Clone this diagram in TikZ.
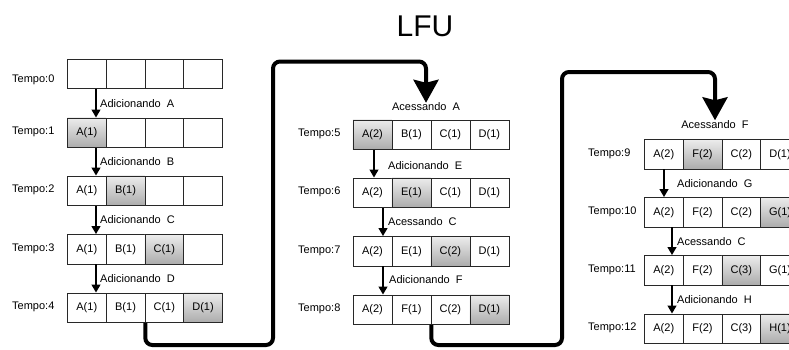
\documentclass[tikz,border=0pt]{standalone}
\usepackage{fontspec}
\setmainfont{Liberation Sans}
\usetikzlibrary{arrows.meta}
\definecolor{edgegray}{RGB}{40,40,40}
\definecolor{hottop}{RGB}{236,236,236}
\definecolor{hotbottom}{RGB}{172,172,172}
\tikzset{
  cell/.style={draw=edgegray, line width=0.8pt, fill=white, minimum height=29.5pt,
    inner sep=0pt, anchor=north west, font=\fontsize{11}{13}\selectfont},
  hotcell/.style={cell, top color=hottop, bottom color=hotbottom},
  tlabel/.style={anchor=west, inner sep=0pt, font=\fontsize{11}{13}\selectfont},
  elabel/.style={anchor=west, inner sep=0pt, font=\fontsize{11}{13}\selectfont},
  alabel/.style={inner sep=0pt, font=\fontsize{11}{13}\selectfont},
  smallarrow/.style={line width=1.3pt, -{Triangle[width=9pt,length=8pt]}},
  bigarrow/.style={line width=4pt, rounded corners=7pt,
    -{Stealth[width=25pt,length=23pt,inset=3pt]}},
}
% one row of four cache slots: name, left x, top y, slot width, slots
\newcommand\slotrow[5]{%
  \foreach \t/\s [count=\i] in {#5}{%
    \node[\s, minimum width=#4] (#1c\i) at ({#2+(\i-1)*#4},#3) {\t};
  }%
}
\begin{document}
\begin{tikzpicture}[x=1pt,y=-1pt]
\useasboundingbox (0,0) rectangle (789,349);

\node[font=\fontsize{30}{34}\selectfont, inner sep=0pt] (title) at (425,26) {LFU};

% ---------- first column ----------
\slotrow{r0}{67}{58.5}{38.75pt}{/cell,/cell,/cell,/cell}
\slotrow{r1}{67}{117.5}{38.75pt}{A(1)/hotcell,/cell,/cell,/cell}
\slotrow{r2}{67}{175.5}{38.75pt}{A(1)/cell,B(1)/hotcell,/cell,/cell}
\slotrow{r3}{67}{234}{38.75pt}{A(1)/cell,B(1)/cell,C(1)/hotcell,/cell}
\slotrow{r4}{67}{292.5}{38.75pt}{A(1)/cell,B(1)/cell,C(1)/cell,D(1)/hotcell}

\node[tlabel] (t0) at (12,80) {Tempo:0};
\node[tlabel] (t1) at (12,132) {Tempo:1};
\node[tlabel] (t2) at (12,190) {Tempo:2};
\node[tlabel] (t3) at (12,248.5) {Tempo:3};
\node[tlabel] (t4) at (12,307) {Tempo:4};

\coordinate (ax1) at (96,0);
\draw[smallarrow] (r0c1.south -| ax1) -- (r1c1.north -| ax1);
\draw[smallarrow] (r1c1.south -| ax1) -- (r2c1.north -| ax1);
\draw[smallarrow] (r2c1.south -| ax1) -- (r3c1.north -| ax1);
\draw[smallarrow] (r3c1.south -| ax1) -- (r4c1.north -| ax1);
\node[elabel] (e1) at (100,103.5) {Adicionando\ \ A};
\node[elabel] (e2) at (100,161.5) {Adicionando\ \ B};
\node[elabel] (e3) at (100,220) {Adicionando\ \ C};
\node[elabel] (e4) at (100,278.5) {Adicionando\ \ D};

% ---------- second column ----------
\slotrow{r5}{352.5}{119.5}{39pt}{A(2)/hotcell,B(1)/cell,C(1)/cell,D(1)/cell}
\slotrow{r6}{352.5}{177.5}{39pt}{A(2)/cell,E(1)/hotcell,C(1)/cell,D(1)/cell}
\slotrow{r7}{352.5}{236}{39pt}{A(2)/cell,E(1)/cell,C(2)/hotcell,D(1)/cell}
\slotrow{r8}{352.5}{294.5}{39pt}{A(2)/cell,F(1)/cell,C(2)/cell,D(1)/hotcell}

\node[tlabel] (t5) at (298,134) {Tempo:5};
\node[tlabel] (t6) at (298,192) {Tempo:6};
\node[tlabel] (t7) at (298,250.5) {Tempo:7};
\node[tlabel] (t8) at (298,309) {Tempo:8};

\node[alabel] (accA) at (426,107) {Acessando\ \ A};
\coordinate (ax2a) at (374,0);
\coordinate (ax2b) at (383,0);
\draw[smallarrow] (r5c1.south -| ax2a) -- (r6c1.north -| ax2a);
\draw[smallarrow] (r6c1.south -| ax2b) -- (r7c1.north -| ax2b);
\draw[smallarrow] (r7c1.south -| ax2b) -- (r8c1.north -| ax2b);
\node[elabel] (e6) at (388,166) {Adicionando\ \ E};
\node[elabel] (e7) at (388,221.5) {Acessando\ \ C};
\node[elabel] (e8) at (389,280) {Adicionando\ \ F};

% ---------- third column ----------
\slotrow{r9}{644}{139}{38.75pt}{A(2)/cell,F(2)/hotcell,C(2)/cell,D(1)/cell}
\slotrow{r10}{644}{197}{38.75pt}{A(2)/cell,F(2)/cell,C(2)/cell,G(1)/hotcell}
\slotrow{r11}{644}{255}{38.75pt}{A(2)/cell,F(2)/cell,C(3)/hotcell,G(1)/cell}
\slotrow{r12}{644}{313.5}{38.75pt}{A(2)/cell,F(2)/cell,C(3)/cell,H(1)/hotcell}

\node[tlabel] (t9) at (588,153.5) {Tempo:9};
\node[tlabel] (t10) at (588,211.5) {Tempo:10};
\node[tlabel] (t11) at (588,270) {Tempo:11};
\node[tlabel] (t12) at (588,328) {Tempo:12};

\node[alabel] (accF) at (715,124.5) {Acessando\ \ F};
\coordinate (ax3a) at (664,0);
\coordinate (ax3b) at (672,0);
\draw[smallarrow] (r9c1.south -| ax3a) -- (r10c1.north -| ax3a);
\draw[smallarrow] (r10c1.south -| ax3b) -- (r11c1.north -| ax3b);
\draw[smallarrow] (r11c1.south -| ax3b) -- (r12c1.north -| ax3b);
\node[elabel] (e10) at (677,183.5) {Adicionando\ \ G};
\node[elabel] (e11) at (677,241.5) {Acessando\ \ C};
\node[elabel] (e12) at (677,299.5) {Adicionando\ \ H};

% ---------- links between columns ----------
\coordinate (lowA) at (273,345);
\coordinate (topA) at (426,61.5);
\draw[bigarrow] (r4c2.south east) |- (lowA) |- (topA) -- (accA.north);

\coordinate (lowF) at (562,345);
\coordinate (topF) at (715,72);
\draw[bigarrow] (r8c2.south east) |- (lowF) |- (topF) -- (accF.north);
\end{tikzpicture}
\end{document}
